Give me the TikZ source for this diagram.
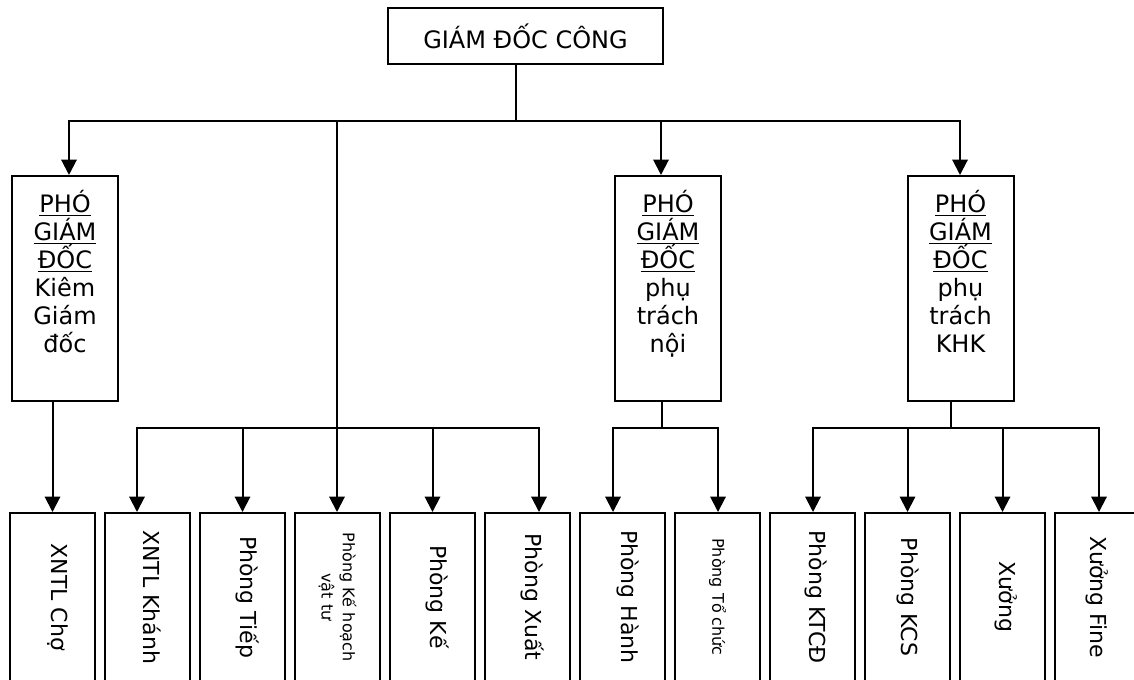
\documentclass[tikz,border=0pt]{standalone}
\usepackage{fontspec}
\setmainfont{DejaVu Sans}
\usetikzlibrary{arrows.meta, positioning}

\begin{document}
\begin{tikzpicture}[
x=0.75pt, y=-0.75pt,
line width=1.5pt, line cap=rect,
node distance=6pt,
chief/.style={rectangle, draw, minimum width=206pt, minimum height=42pt, inner sep=0pt, font=\fontsize{18}{21}\selectfont},
deputy/.style={rectangle, draw, minimum width=79.5pt, minimum height=168.75pt, inner sep=0pt},
deptext/.style={anchor=north, align=center, inner sep=0pt, font=\fontsize{18}{21}\selectfont},
unit/.style={rectangle, draw, minimum width=63.75pt, minimum height=126pt, inner sep=0pt},
unittext/.style={rotate=-90, inner sep=0pt, font=\fontsize{16.5}{20}\selectfont},
smalltext/.style={rotate=-90, inner sep=0pt, align=center, font=\fontsize{12}{16}\selectfont},
arrow/.style={-{Triangle[length=11.5pt, width=11.5pt]}}
]
\useasboundingbox (0,0) rectangle (1134,679);
\clip (0,0) rectangle (1134,679);

\node[chief] (gd) at (525.5,36) {GIÁM ĐỐC CÔNG};

\node[deputy] (p1) at (65,288.5) {};
\node[deputy] (p2) at (668,288.5) {};
\node[deputy] (p3) at (960.5,288.5) {};
\node[deptext] (p1t) at ([yshift=-11pt]p1.north) {\underline{PHÓ}\\\underline{GIÁM}\\\underline{ĐỐC}\\Kiêm\\Giám\\đốc};
\node[deptext] (p2t) at ([yshift=-11pt]p2.north) {\underline{PHÓ}\\\underline{GIÁM}\\\underline{ĐỐC}\\phụ\\trách\\nội};
\node[deptext] (p3t) at ([yshift=-11pt]p3.north) {\underline{PHÓ}\\\underline{GIÁM}\\\underline{ĐỐC}\\phụ\\trách\\KHK};

\node[unit] (b1) at (52.5,597) {};
\node[unit, right=of b1] (b2) {};
\node[unit, right=of b2] (b3) {};
\node[unit, right=of b3] (b4) {};
\node[unit, right=of b4] (b5) {};
\node[unit, right=of b5] (b6) {};
\node[unit, right=of b6] (b7) {};
\node[unit, right=of b7] (b8) {};
\node[unit, right=of b8] (b9) {};
\node[unit, right=of b9] (b10) {};
\node[unit, right=of b10] (b11) {};
\node[unit, right=of b11] (b12) {};

\node[unittext] (t1) at ([xshift=3.75pt]b1.center) {XNTL Chợ};
\node[unittext] (t2) at ([xshift=3.75pt]b2.center) {XNTL Khánh};
\node[unittext] (t3) at ([xshift=3.75pt]b3.center) {Phòng Tiếp};
\node[smalltext] (t4) at (b4.center) {Phòng Kế hoạch\\vật tư};
\node[unittext] (t5) at ([xshift=3.75pt]b5.center) {Phòng Kế};
\node[unittext] (t6) at ([xshift=3.75pt]b6.center) {Phòng Xuất};
\node[unittext] (t7) at ([xshift=3.75pt]b7.center) {Phòng Hành};
\node[smalltext] (t8) at (b8.center) {Phòng Tổ chức};
\node[unittext] (t9) at ([xshift=2.5pt]b9.center) {Phòng KTCĐ};
\node[unittext] (t10) at (b10.center) {Phòng KCS};
\node[unittext] (t11) at ([xshift=3pt]b11.center) {Xưởng};
\node[unittext] (t12) at (b12.center) {Xưởng Fine};

\coordinate (hub) at (516,121);
\coordinate (lt) at (69,121);
\coordinate (rt) at (960,121);
\coordinate (mid) at (337,121);
\coordinate (c2) at (661,121);
\coordinate (g1l) at (137,428);
\coordinate (g1r) at (539,428);
\coordinate (g2) at (662,428);
\coordinate (g2l) at (613,428);
\coordinate (g2r) at (718,428);
\coordinate (g3) at (951,428);
\coordinate (g3l) at (813,428);
\coordinate (g3r) at (1099,428);

\draw (gd.south -| hub) -- (hub);
\draw[arrow] (rt) -- (lt) -- (lt |- p1.north);
\draw[arrow] (c2) -- (c2 |- p2.north);
\draw[arrow] (rt) -- (rt |- p3.north);
\draw[arrow] (mid) -- (mid |- b4.north);
\draw[arrow] (p1.south -| b1.north) -- (b1.north);

\draw[arrow] (g1r) -- (g1l) -- (g1l |- b2.north);
\draw[arrow] (b3.north |- g1l) -- (b3.north);
\draw[arrow] (b5.north |- g1l) -- (b5.north);
\draw[arrow] (g1r) -- (g1r |- b6.north);

\draw (g2 |- p2.south) -- (g2);
\draw[arrow] (g2r) -- (g2l) -- (g2l |- b7.north);
\draw[arrow] (g2r) -- (g2r |- b8.north);

\draw (g3 |- p3.south) -- (g3);
\draw[arrow] (g3r) -- (g3l) -- (g3l |- b9.north);
\draw[arrow] (b10.north |- g3l) -- (b10.north);
\draw[arrow] (b11.north |- g3l) -- (b11.north);
\draw[arrow] (g3r) -- (g3r |- b12.north);

\end{tikzpicture}
\end{document}
